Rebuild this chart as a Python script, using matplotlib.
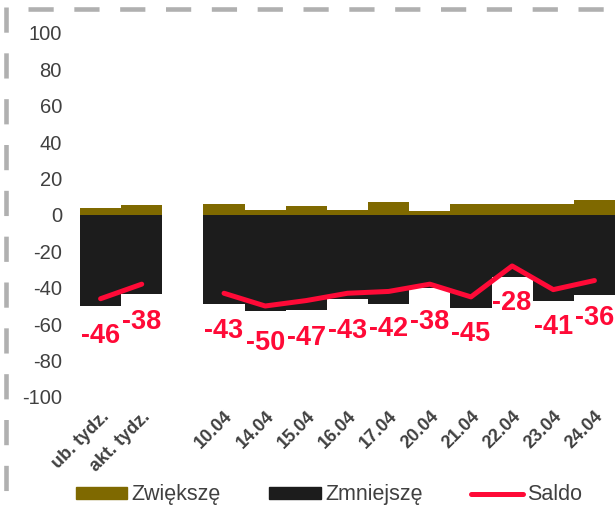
import numpy as np
import matplotlib.pyplot as plt
from matplotlib.patches import Patch
from matplotlib.lines import Line2D

plt.rcParams['font.family'] = ['Liberation Sans', 'DejaVu Sans']
plt.rcParams['axes.unicode_minus'] = False

# dane (puste miejsce = przerwa między tygodniami a dniami)
categories = ['ub. tydz.', 'akt. tydz.', '', '10.04', '14.04', '15.04', '16.04',
              '17.04', '20.04', '21.04', '22.04', '23.04', '24.04']
zwieksze = [4, 5.5, np.nan, 6, 3, 5, 3, 7, 2, 6, 6, 6, 8]
zmniejsze = [50, 43.5, np.nan, 49, 53, 52, 46, 49, 40, 51, 34, 47, 44]
saldo = [-46, -38, np.nan, -43, -50, -47, -43, -42, -38, -45, -28, -41, -36]

c_up = '#7f6900'
c_down = '#1c1c1c'
c_red = '#ff0a37'
c_txt = '#404040'

fig = plt.figure(figsize=(6.15, 5.05), dpi=100)
ax = fig.add_axes([80 / 615, 108 / 505, 535 / 615, 364 / 505])

x = np.arange(len(categories))
up = np.array(zwieksze, dtype=float)
down = np.array(zmniejsze, dtype=float)
sal = np.array(saldo, dtype=float)

ax.bar(x, up, width=1.0, color=c_up, linewidth=0)
ax.bar(x, -down, width=1.0, color=c_down, linewidth=0)
ax.plot(x, sal, color=c_red, lw=3.6, solid_capstyle='round', solid_joinstyle='round')

for xi, v in zip(x, sal):
    if np.isnan(v):
        continue
    ax.annotate(f'{v:.0f}', (xi, v), xytext=(0, -32), textcoords='offset points',
                ha='center', va='baseline', color=c_red, fontsize=19.5,
                fontweight='bold')

ax.set_xlim(-0.5, len(categories) - 0.5)
ax.set_ylim(-100, 100)
ax.set_yticks(range(-100, 101, 20))
ax.set_yticklabels([str(t) for t in range(-100, 101, 20)])
ax.set_xticks(x)
ax.set_xticklabels(categories, rotation=45, ha='right', va='top',
                   rotation_mode='anchor', fontweight='bold', fontsize=13)
ax.tick_params(axis='y', length=0, pad=13, labelsize=14.5, labelcolor=c_txt)
ax.tick_params(axis='x', length=0, pad=8, labelcolor=c_txt)
for s in ax.spines.values():
    s.set_visible(False)

# przerywana ramka (góra i lewa strona)
fig.add_artist(Line2D([28 / 615, 1.0], [1 - 9 / 505] * 2, transform=fig.transFigure,
                      color='#b0b0b0', lw=3.3, linestyle=(0, (5.5, 4.5)),
                      dash_capstyle='butt'))
fig.add_artist(Line2D([6 / 615] * 2, [1 - 7 / 505, 0], transform=fig.transFigure,
                      color='#b0b0b0', lw=3.3, linestyle=(0, (5.5, 4.5)),
                      dash_capstyle='butt'))

handles = [Patch(color=c_up, label='Zwiększę'),
           Patch(color=c_down, label='Zmniejszę'),
           Line2D([], [], color=c_red, lw=3.6, solid_capstyle='round', label='Saldo')]
leg = fig.legend(handles=handles, loc='center', bbox_to_anchor=(0.535, 0.02), ncol=3,
                 frameon=False, fontsize=15.5, handlelength=2.4, handleheight=0.5,
                 handletextpad=0.2, columnspacing=2.25, borderpad=0)
for t in leg.get_texts():
    t.set_color(c_txt)

fig.savefig('out.png', dpi=100)
